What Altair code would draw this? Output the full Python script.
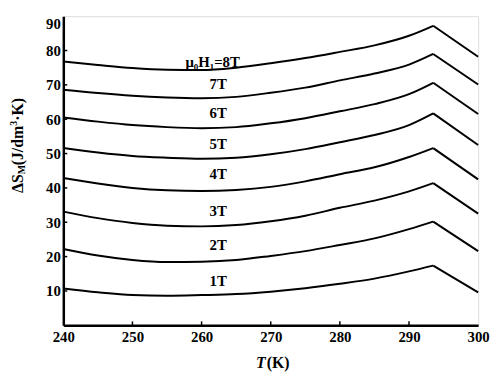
import altair as alt
import pandas as pd

# Temperature grid (K); 293.5 is the peak (Curie point)
T = [240, 245, 250, 255, 260, 265, 270, 275, 280, 285, 290, 293.5, 300]
PEAK_T = 293.5

s1T = [10.7, 9.6, 8.8, 8.6, 8.8, 9.1, 9.8, 10.8, 12.1, 13.6, 15.7, 17.4, 9.6]
s2T = [22.2, 20.3, 19.0, 18.4, 18.5, 19.0, 20.2, 21.6, 23.4, 25.3, 28.0, 30.2, 21.6]
s3T = [33.1, 31.2, 29.8, 29.0, 28.8, 29.2, 30.3, 31.9, 34.2, 36.3, 39.0, 41.4, 32.5]
s4T = [42.9, 41.3, 40.0, 39.3, 39.1, 39.4, 40.3, 41.9, 44.0, 46.0, 49.0, 51.6, 42.5]
s5T = [51.6, 50.3, 49.3, 48.8, 48.5, 48.8, 49.8, 51.3, 53.3, 55.4, 58.3, 61.7, 52.5]
s6T = [60.5, 59.3, 58.3, 57.7, 57.4, 57.7, 58.8, 60.3, 62.3, 64.4, 67.3, 70.6, 61.5]
s7T = [68.6, 67.6, 66.8, 66.3, 66.1, 66.5, 67.7, 69.2, 71.3, 73.3, 75.9, 79.0, 70.1]
s8T = [76.8, 75.8, 74.9, 74.4, 74.3, 75.0, 76.3, 77.8, 79.6, 81.5, 84.3, 87.2, 78.2]

series_names = ["1T", "2T", "3T", "4T", "5T", "6T", "7T", "8T"]
series_vals = [s1T, s2T, s3T, s4T, s5T, s6T, s7T, s8T]

label_text = ["1T", "2T", "3T", "4T", "5T", "6T", "7T", "μ₀H₁=8T"]
label_T = [262.4, 262.4, 262.4, 262.4, 262.4, 262.4, 262.4, 261.6]
label_v = [12.9, 23.4, 33.4, 44.0, 52.9, 61.7, 70.3, 76.6]

x_ticks = [240, 250, 260, 270, 280, 290, 300]
y_ticks = [10, 20, 30, 40, 50, 60, 70, 80, 90]

rows = []
for name, vals in zip(series_names, series_vals):
    for t, v in zip(T, vals):
        if t <= PEAK_T:
            rows.append({"series": name, "T": t, "v": v, "seg": "rise"})
        if t >= PEAK_T:
            rows.append({"series": name, "T": t, "v": v, "seg": "fall"})
df = pd.DataFrame(rows)

labels = pd.DataFrame({"text": label_text, "T": label_T, "v": label_v})
xt = pd.DataFrame({"T": x_ticks[1:-1]})
yt = pd.DataFrame({"v": y_ticks[:-1]})

W, H = 420, 313
FONT = "Liberation Serif"

xscale = alt.Scale(domain=[240, 300], nice=False, zero=False)
yscale = alt.Scale(domain=[0, 90], nice=False)

xax = alt.Axis(values=x_ticks, title=None, tickSize=0, labelPadding=4, domainWidth=2.5,
               domainColor="black", labelFont=FONT, labelFontSize=15, labelFontWeight="bold",
               labelColor="black", grid=False, labelFlush=False, labelOverlap=False)
yax = alt.Axis(values=y_ticks, title=None, tickSize=0, labelPadding=3, domainWidth=2.5,
               domainColor="black", labelFont=FONT, labelFontSize=15, labelFontWeight="bold",
               labelColor="black", grid=False, labelOverlap=False, labelFlush=True)

X = lambda: alt.X("T:Q", scale=xscale, axis=xax)
Y = lambda: alt.Y("v:Q", scale=yscale, axis=yax)

base = alt.Chart(df)
rise = base.transform_filter(alt.datum.seg == "rise").mark_line(
    color="black", strokeWidth=2, interpolate="monotone"
).encode(x=X(), y=Y(), detail="series:N")
fall = base.transform_filter(alt.datum.seg == "fall").mark_line(
    color="black", strokeWidth=2
).encode(x=X(), y=Y(), detail="series:N")

text = alt.Chart(labels).mark_text(
    font=FONT, fontSize=15, fontWeight="bold", color="black", align="center", baseline="middle"
).encode(x=X(), y=Y(), text="text:N")

xticks = alt.Chart(xt).mark_rule(color="black", strokeWidth=1.5).encode(
    x=X(), y=alt.value(H), y2=alt.value(H - 4)
)
yticks = alt.Chart(yt).mark_rule(color="black", strokeWidth=1.5).encode(
    y=Y(), x=alt.value(0), x2=alt.value(4)
)

def t(txt, x, y, size=16, angle=0, style="normal", align="left"):
    return alt.Chart(pd.DataFrame({"a": [0]})).mark_text(
        text=txt, font=FONT, fontSize=size, fontWeight="bold", fontStyle=style,
        color="black", angle=angle, align=align, baseline="middle"
    ).encode(x=alt.value(x), y=alt.value(y))

# y title pieces (rotated, reading bottom to top)
yx = -46
ytitle = [
    t("ΔS", yx, 179, 16, 270),
    t("M", yx + 4, 160, 10, 270),
    t("(J/dm", yx, 151, 16, 270),
    t("3", yx - 4, 111, 10, 270),
    t("·K)", yx, 106, 16, 270),
]
xtitle = [
    t("T", 195, 351, 16, 0, "italic"),
    t("(K)", 206, 351, 16, 0),
]

chart = alt.layer(rise, fall, text, xticks, yticks, *ytitle, *xtitle).properties(
    width=W, height=H,
    autosize=alt.AutoSizeParams(type="none"),
    padding={"left": 56, "top": 6, "right": 12, "bottom": 45},
).configure_view(stroke="black", strokeWidth=1.5).configure_axis(
    labelOverlap=False
).configure(background="white")

chart.save("out.html", embed_options={"renderer": "svg", "actions": False})
